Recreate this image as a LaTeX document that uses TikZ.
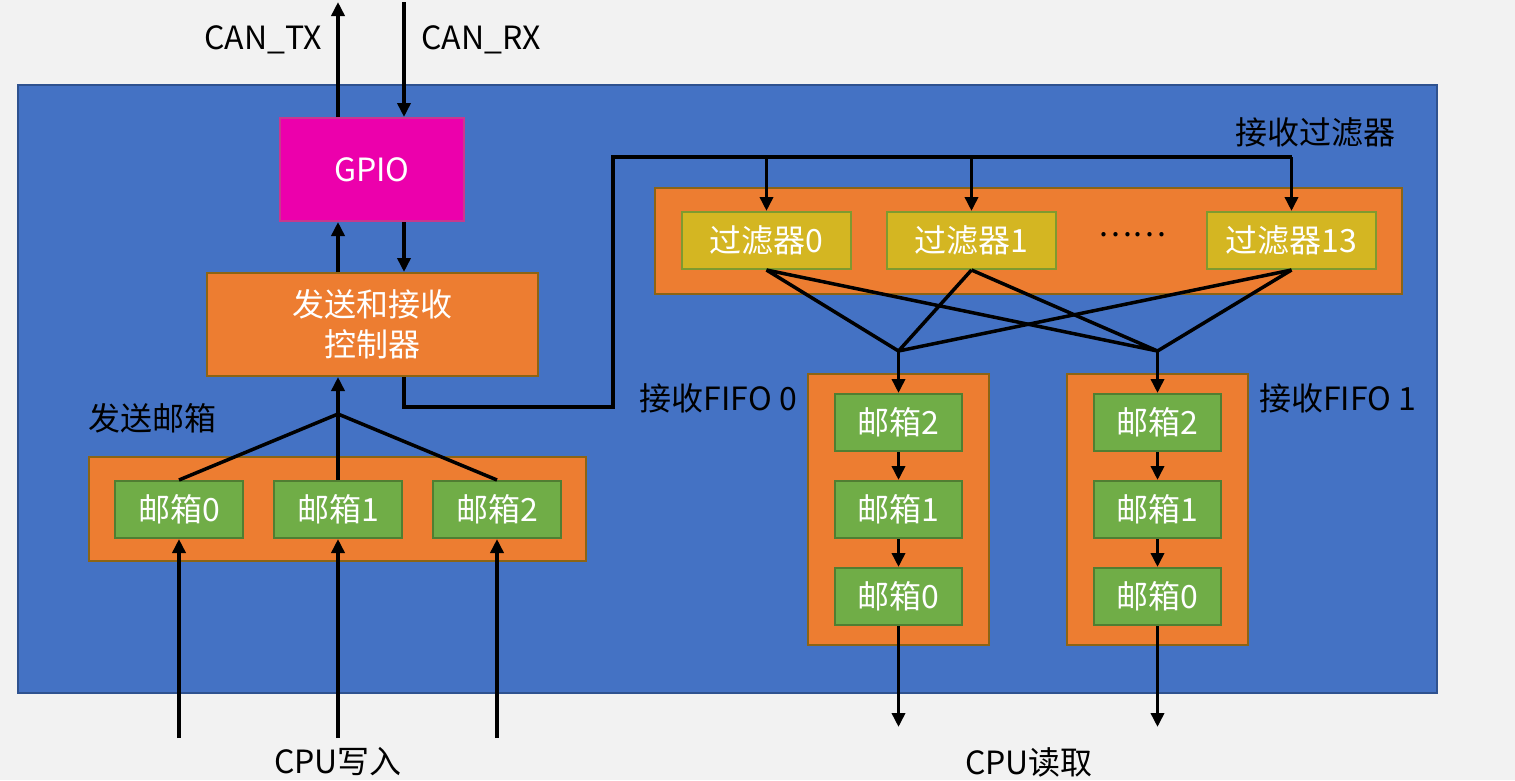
\documentclass[tikz,border=0pt]{standalone}
\usepackage{fontspec}
\setmainfont{Noto Sans CJK SC}
\usetikzlibrary{arrows.meta}

\definecolor{pagebg}{HTML}{F2F2F2}
\definecolor{chipfill}{HTML}{4472C4}
\definecolor{chipedge}{HTML}{2F528F}
\definecolor{gpiofill}{HTML}{EC00AC}
\definecolor{gpioedge}{HTML}{C8388E}
\definecolor{grpfill}{HTML}{ED7D31}
\definecolor{grpedge}{HTML}{8C6414}
\definecolor{fltfill}{HTML}{D4B622}
\definecolor{fltedge}{HTML}{7F9A2F}
\definecolor{mbfill}{HTML}{70AD47}
\definecolor{mbedge}{HTML}{507E32}

\tikzset{
  txt/.style={font=\fontsize{32}{40}\selectfont},
  box/.style={draw, line width=2pt, inner sep=0pt, align=center, text=white, txt},
  gpiobox/.style={box, fill=gpiofill, draw=gpioedge, minimum width=184pt, minimum height=103pt},
  ctrlbox/.style={box, fill=grpfill, draw=grpedge, minimum width=331pt, minimum height=103pt},
  grpbox/.style={box, fill=grpfill, draw=grpedge},
  fltbox/.style={box, fill=fltfill, draw=fltedge, minimum width=169pt, minimum height=57pt},
  mbbox/.style={box, fill=mbfill, draw=mbedge, minimum width=128pt, minimum height=57pt},
  label/.style={txt, text=black, inner sep=0pt},
  wire/.style={line width=3.5pt, black, line join=round},
  arr/.style={wire, -{Triangle[length=14pt,width=13pt]}},
}

\begin{document}
\begin{tikzpicture}[x=1pt,y=-1pt]
\useasboundingbox (0,0) rectangle (1515,780);
\fill[pagebg] (0,0) rectangle (1515,780);

% CAN controller body
\draw[fill=chipfill, draw=chipedge, line width=2pt] (18,85) rectangle (1437,693);

% pin and controller blocks
\node[gpiobox] (gpio) at (372,169.5) {GPIO};
\node[ctrlbox] (ctrl) at (372.5,324.5) {发送和接收\\控制器};

% transmit mailboxes
\node[grpbox, minimum width=497pt, minimum height=104pt] (txgrp) at (337.5,509) {};
\node[mbbox] (tx0) at (179,509.5) {邮箱0};
\node[mbbox] (tx1) at (338,509.5) {邮箱1};
\node[mbbox] (tx2) at (497,509.5) {邮箱2};
\node[label, anchor=west] (txlbl) at (88,418) {发送邮箱};

% receive filters
\node[grpbox, minimum width=747pt, minimum height=106pt] (fltgrp) at (1028.5,241) {};
\node[fltbox] (f0) at (766.5,240.5) {过滤器0};
\node[fltbox] (f1) at (971.5,240.5) {过滤器1};
\node[fltbox] (f13) at (1291.5,240.5) {过滤器13};
\node[label] (dots) at (1132,235) {……};
\node[label, anchor=east] (fltlbl) at (1396,132) {接收过滤器};

% receive FIFOs
\node[grpbox, minimum width=181pt, minimum height=271pt] (fifo0) at (898.5,509.5) {};
\node[grpbox, minimum width=181pt, minimum height=271pt] (fifo1) at (1157.5,509.5) {};
\node[mbbox, minimum width=127pt] (ra2) at (898.5,422.5) {邮箱2};
\node[mbbox, minimum width=127pt] (ra1) at (898.5,509.5) {邮箱1};
\node[mbbox, minimum width=127pt] (ra0) at (898.5,596.5) {邮箱0};
\node[mbbox, minimum width=127pt] (rb2) at (1157.5,422.5) {邮箱2};
\node[mbbox, minimum width=127pt] (rb1) at (1157.5,509.5) {邮箱1};
\node[mbbox, minimum width=127pt] (rb0) at (1157.5,596.5) {邮箱0};
\node[label, anchor=east] (fifo0lbl) at (797,398) {接收FIFO 0};
\node[label, anchor=west] (fifo1lbl) at (1259,398) {接收FIFO 1};

% outside labels
\node[label] (txpin) at (263,40) {CAN\_TX};
\node[label] (rxpin) at (481,40) {CAN\_RX};
\node[label] (cpuw) at (338,762) {CPU写入};
\node[label] (cpur) at (1029,762) {CPU读取};

% free ends and junctions
\coordinate (txend) at (338,2);
\coordinate (rxend) at (404,2);
\coordinate (txj) at (338,414);
\coordinate (bus) at (613,157);
\coordinate (j0) at (898.5,351);
\coordinate (j1) at (1157.5,351);
\coordinate (w0) at (179,738);
\coordinate (w1) at (338,738);
\coordinate (w2) at (497,738);
\coordinate (rd0) at (898.5,727);
\coordinate (rd1) at (1157.5,727);

% pins
\draw[arr] (gpio.north -| txend) -- (txend);
\draw[arr] (rxend) -- (gpio.north -| rxend);
\draw[arr] (ctrl.north -| txend) -- (gpio.south -| txend);
\draw[arr] (gpio.south -| rxend) -- (ctrl.north -| rxend);

% transmit path
\draw[wire] (tx0.north) -- (txj) -- (tx2.north);
\draw[wire] (tx1.north) -- (txj);
\draw[arr] (txj) -- (ctrl.south -| txj);
\draw[arr] (w0) -- (tx0.south);
\draw[arr] (w1) -- (tx1.south);
\draw[arr] (w2) -- (tx2.south);

% receive bus to filters
\draw[wire, line join=miter] (ctrl.south -| rxend) -- ++(0,30) -| (bus) -- (f13.north |- bus);
\draw[arr] (f0.north |- bus) -- (f0.north);
\draw[arr] (f1.north |- bus) -- (f1.north);
\draw[arr] (f13.north |- bus) -- (f13.north);

% filters to FIFOs
\draw[wire] (f0.south) -- (j0) -- (f1.south);
\draw[wire] (f13.south) -- (j0);
\draw[wire] (f0.south) -- (j1) -- (f1.south);
\draw[wire] (f13.south) -- (j1);
\draw[arr] (j0) -- (ra2.north);
\draw[arr] (j1) -- (rb2.north);

% FIFO chains
\draw[arr] (ra2.south) -- (ra1.north);
\draw[arr] (ra1.south) -- (ra0.north);
\draw[arr] (rb2.south) -- (rb1.north);
\draw[arr] (rb1.south) -- (rb0.north);
\draw[arr] (ra0.south) -- (rd0);
\draw[arr] (rb0.south) -- (rd1);
\end{tikzpicture}
\end{document}
